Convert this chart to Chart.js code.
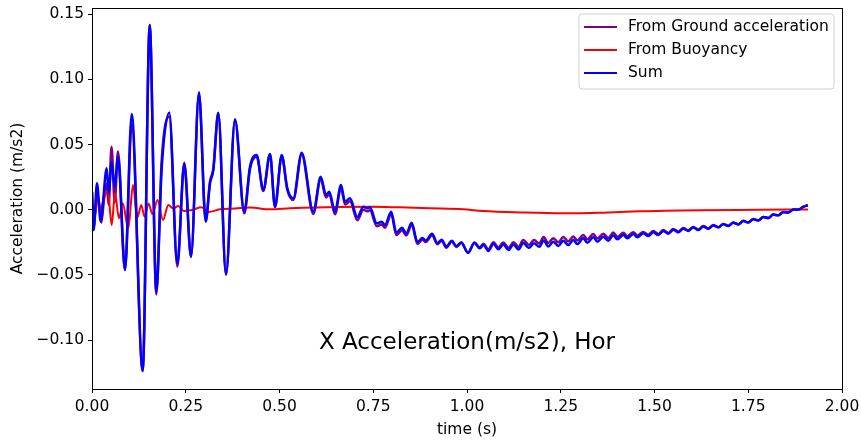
<!DOCTYPE html>
<html>
<head>
<meta charset="utf-8">
<script src="https://cdn.jsdelivr.net/npm/chart.js@4.4.1/dist/chart.umd.min.js"></script>
<style>
  html, body { margin: 0; padding: 0; background: #fff; }
  #wrap { width: 861px; height: 440px; }
</style>
</head>
<body>
<div id="wrap"><canvas id="accelChart" width="861" height="440"></canvas></div>
<script>
// time samples for the ground / sum traces (s)
const sumTime = [
    0.000, 0.0045, 0.0133, 0.0232, 0.0392, 0.0445, 0.052, 0.0605, 0.0693, 0.088,
    0.1059, 0.1352, 0.1539, 0.1715, 0.1859, 0.2061, 0.2275, 0.2461, 0.264, 0.2853,
    0.3032, 0.3147, 0.3235, 0.3368, 0.3573, 0.3813, 0.4061, 0.4213, 0.4392, 0.4568,
    0.4747, 0.488, 0.5059, 0.5208, 0.5368, 0.5592, 0.5901, 0.6099, 0.624, 0.6328,
    0.648, 0.664, 0.6747, 0.688, 0.7075, 0.7235, 0.7341, 0.7413, 0.7592, 0.7725,
    0.7813, 0.7979, 0.8115, 0.8267, 0.8381, 0.8525, 0.868, 0.8813, 0.8901, 0.9067,
    0.9213, 0.9325, 0.9448, 0.9595, 0.9715, 0.9848, 1.0027, 1.02, 1.0336, 1.0443,
    1.0568, 1.0707, 1.0835, 1.0968, 1.1107, 1.124, 1.1373, 1.1501, 1.1653, 1.1787,
    1.1928, 1.2043, 1.2168, 1.2301, 1.2435, 1.2568, 1.2701, 1.2835, 1.2941, 1.3101,
    1.3208, 1.3368, 1.3475, 1.3635, 1.3768, 1.3901, 1.4008, 1.4168, 1.4275, 1.4435,
    1.4541, 1.4701, 1.4835, 1.4968, 1.5101, 1.5235, 1.5368, 1.5501, 1.5635, 1.5768,
    1.5901, 1.6035, 1.6168, 1.6301, 1.6435, 1.6568, 1.6701, 1.6835, 1.6968, 1.7101,
    1.7235, 1.7368, 1.7501, 1.7635, 1.7768, 1.7901, 1.8035, 1.8168, 1.8301, 1.8435,
    1.8568, 1.8701, 1.8835, 1.8968, 1.9088
];

// Sum (m/s2)
const sumAccel = [
    0.0138, -0.0156, 0.0202, -0.0092, 0.0317, 0.0126, 0.0368, 0.0176, 0.0406, -0.0462,
    0.0733, -0.1236, 0.1415, -0.0628, 0.032, 0.0745, -0.0411, 0.035, -0.036, 0.090,
    -0.0092, 0.0202, 0.0304, 0.0743, -0.0493, 0.0693, -0.0015, 0.033, 0.0419, 0.0151,
    0.0427, 0.0023, 0.0419, 0.0164, 0.0087, 0.0437, -0.0015, 0.0253, 0.0113, 0.0138,
    -0.0015, 0.0189, 0.0061, 0.0087, -0.0058, 0.0023, 0.0011, 0.0018, -0.0104, -0.0092,
    -0.0117, -0.0015, -0.0176, -0.0139, -0.0181, -0.010, -0.0248, -0.0217, -0.0236, -0.0184,
    -0.0255, -0.023, -0.0284, -0.0238, -0.028, -0.0251, -0.033, -0.0255, -0.0296, -0.027,
    -0.0316, -0.0263, -0.0303, -0.0267, -0.0309, -0.0267, -0.0305, -0.0255, -0.0293, -0.0257,
    -0.0284, -0.0236, -0.0282, -0.0245, -0.0278, -0.0238, -0.027, -0.0232, -0.0263, -0.0219,
    -0.0253, -0.0211, -0.0245, -0.0207, -0.0238, -0.0195, -0.0227, -0.0194, -0.0219, -0.0186,
    -0.0211, -0.0181, -0.0202, -0.0173, -0.0194, -0.0163, -0.0184, -0.0153, -0.0173, -0.0145,
    -0.0163, -0.0136, -0.0156, -0.0129, -0.0146, -0.0121, -0.0136, -0.0112, -0.0125, -0.010,
    -0.0113, -0.0087, -0.0098, -0.0073, -0.0083, -0.0056, -0.0064, -0.0037, -0.0043, -0.0018,
    -0.0021, 0.0002, 0.0002, 0.0023, 0.0036
];

// From Ground acceleration (m/s2)
const groundAccel = [
    0.0138, -0.0126, 0.0122, -0.001, 0.0197, 0.0036, 0.0483, 0.0056, 0.0446, -0.046,
    0.066, -0.1236, 0.1415, -0.065, 0.038, 0.0715, -0.0436, 0.036, -0.036, 0.0887,
    -0.0082, 0.0217, 0.0314, 0.0741, -0.0499, 0.0684, -0.0028, 0.0313, 0.0407, 0.0143,
    0.0424, 0.0018, 0.0411, 0.0154, 0.0075, 0.0422, -0.0032, 0.0235, 0.0094, 0.0119,
    -0.0035, 0.0168, 0.004, 0.0065, -0.008, 0.0, -0.0012, -0.0005, -0.0126, -0.0113,
    -0.0138, -0.0034, -0.0194, -0.0157, -0.0198, -0.0116, -0.0262, -0.0229, -0.0248, -0.0195,
    -0.0264, -0.0238, -0.0291, -0.0244, -0.0285, -0.0254, -0.033, -0.0251, -0.0288, -0.026,
    -0.0304, -0.025, -0.0288, -0.0251, -0.0292, -0.0249, -0.0285, -0.0233, -0.027, -0.0233,
    -0.0259, -0.021, -0.0255, -0.0218, -0.025, -0.021, -0.0242, -0.0205, -0.0236, -0.0193,
    -0.0227, -0.0186, -0.0221, -0.0184, -0.0217, -0.0175, -0.0208, -0.0177, -0.0203, -0.0172,
    -0.0198, -0.017, -0.0192, -0.0164, -0.0186, -0.0156, -0.0178, -0.0147, -0.0168, -0.014,
    -0.0158, -0.0132, -0.0152, -0.0125, -0.0143, -0.0118, -0.0133, -0.011, -0.0123, -0.0098,
    -0.0111, -0.0085, -0.0097, -0.0072, -0.0082, -0.0056, -0.0064, -0.0037, -0.0043, -0.0019,
    -0.0022, 0.0001, 0.0, 0.0021, 0.0034
];

// From Buoyancy, own time samples
const buoyTime = [
    0.000, 0.0072, 0.016, 0.0253, 0.0339, 0.0427, 0.0525, 0.0613, 0.072, 0.0819,
    0.0968, 0.1093, 0.1208, 0.1315, 0.140, 0.1507, 0.1613, 0.1747, 0.1893, 0.2035,
    0.2168, 0.2301, 0.2453, 0.2667, 0.2925, 0.3101, 0.3413, 0.3813, 0.4213, 0.4747,
    0.528, 0.5635, 0.6613, 0.7413, 0.8213, 0.9013, 0.9893, 1.0427, 1.1413, 1.256,
    1.3547, 1.4613, 1.6213, 1.7813, 1.9093
];
const buoyAccel = [
    0.0, -0.0054, 0.0113, -0.0102, 0.010, 0.0138, -0.0117, 0.0126, -0.0066, 0.0049,
    -0.0144, 0.0189, -0.006, 0.0036, -0.0054, 0.0048, -0.0033, 0.0074, -0.0079, 0.0036,
    0.0009, 0.0028, -0.001, -0.0002, 0.0018, -0.0018, 0.0003, 0.0009, 0.0017, 0.0003,
    0.0011, 0.0015, 0.0021, 0.0023, 0.0018, 0.0011, 0.0003, -0.001, -0.0021, -0.0028,
    -0.0024, -0.0012, -0.0004, -0.0001, 0.0002
];

const xTicks = [0, 0.25, 0.5, 0.75, 1.0, 1.25, 1.5, 1.75, 2.0];
const yTicks = [-0.10, -0.05, 0.00, 0.05, 0.10, 0.15];

const seriesNames = ["From Ground acceleration", "From Buoyancy", "Sum"];
const seriesColors = ["#800080", "#ff0000", "#0000ff"];
const plotTitle = "X Acceleration(m/s2), Hor";

const FONT = "'DejaVu Sans', sans-serif";

function toPoints(ts, vs) {
    return ts.map((t, i) => ({ x: t, y: vs[i] }));
}

function fmt(v) {
    const s = Math.abs(v).toFixed(2);
    return v < -1e-9 ? "\u2212" + s : s;
}

// frame, in-plot title and matplotlib-style legend
const extrasPlugin = {
    id: "extras",
    afterDatasetsDraw(chart) {
        const ctx = chart.ctx;
        const a = chart.chartArea;
        const xs = chart.scales.x;
        const ys = chart.scales.y;

        ctx.save();
        ctx.strokeStyle = "#000";
        ctx.lineWidth = 1;
        ctx.strokeRect(Math.round(a.left) + 0.5, Math.round(a.top) + 0.5,
            Math.round(a.right - a.left), Math.round(a.bottom - a.top));

        ctx.fillStyle = "#000";
        ctx.font = "23px " + FONT;
        ctx.textAlign = "center";
        ctx.textBaseline = "middle";
        ctx.fillText(plotTitle, xs.getPixelForValue(1.0), ys.getPixelForValue(-0.1025));

        // legend box
        const bx = 579, by = 14, bw = 255, bh = 75, r = 3;
        ctx.beginPath();
        ctx.moveTo(bx + r, by);
        ctx.arcTo(bx + bw, by, bx + bw, by + bh, r);
        ctx.arcTo(bx + bw, by + bh, bx, by + bh, r);
        ctx.arcTo(bx, by + bh, bx, by, r);
        ctx.arcTo(bx, by, bx + bw, by, r);
        ctx.closePath();
        ctx.fillStyle = "rgba(255,255,255,0.8)";
        ctx.fill();
        ctx.strokeStyle = "#d0d0d0";
        ctx.stroke();

        ctx.font = "15.5px " + FONT;
        ctx.textAlign = "left";
        seriesNames.forEach((name, i) => {
            const yy = 27 + i * 23;
            ctx.strokeStyle = seriesColors[i];
            ctx.lineWidth = 2;
            ctx.beginPath();
            ctx.moveTo(584, yy);
            ctx.lineTo(617, yy);
            ctx.stroke();
            ctx.fillStyle = "#000";
            ctx.fillText(name, 628, yy);
        });
        ctx.restore();
    }
};

const ctx = document.getElementById("accelChart").getContext("2d");

new Chart(ctx, {
    type: "line",
    data: {
        datasets: [
            {
                label: seriesNames[0],
                data: toPoints(sumTime, groundAccel),
                borderColor: seriesColors[0],
                borderWidth: 2.5,
                order: 3,
            },
            {
                label: seriesNames[1],
                data: toPoints(buoyTime, buoyAccel),
                borderColor: seriesColors[1],
                borderWidth: 2,
                order: 2,
            },
            {
                label: seriesNames[2],
                data: toPoints(sumTime, sumAccel),
                borderColor: seriesColors[2],
                borderWidth: 2.5,
                order: 1,
            },
        ],
    },
    options: {
        responsive: false,
        animation: false,
        devicePixelRatio: 1,
        layout: { padding: { left: 0, right: 19, top: 8, bottom: 0 } },
        elements: {
            point: { radius: 0 },
            line: { cubicInterpolationMode: "monotone", fill: false },
        },
        plugins: {
            legend: { display: false },
            tooltip: { enabled: false },
        },
        scales: {
            x: {
                type: "linear",
                min: 0,
                max: 2,
                afterBuildTicks: (s) => { s.ticks = xTicks.map((v) => ({ value: v })); },
                afterFit: (s) => {
                    s.height = 51;
                    s.paddingLeft = 0;
                    s.paddingRight = 0;
                },
                ticks: {
                    color: "#000",
                    font: { family: FONT, size: 15.5 },
                    padding: 5,
                    maxRotation: 0,
                    callback: (v) => v.toFixed(2),
                },
                grid: { drawOnChartArea: false, drawTicks: true, tickLength: 4, color: "#000" },
                border: { display: true, color: "#000" },
                title: {
                    display: true,
                    text: "time (s)",
                    color: "#000",
                    font: { family: FONT, size: 15.5 },
                    padding: { top: 2, bottom: 1 },
                },
            },
            y: {
                type: "linear",
                min: -0.1374,
                max: 0.1546,
                afterBuildTicks: (s) => { s.ticks = yTicks.map((v) => ({ value: v })); },
                afterFit: (s) => {
                    s.width = 92;
                    s.paddingTop = 0;
                    s.paddingBottom = 0;
                },
                ticks: {
                    color: "#000",
                    font: { family: FONT, size: 15.5 },
                    padding: 4,
                    callback: (v) => fmt(v),
                },
                grid: { drawOnChartArea: false, drawTicks: true, tickLength: 4, color: "#000" },
                border: { display: true, color: "#000" },
                title: {
                    display: true,
                    text: "Acceleration (m/s2)",
                    color: "#000",
                    font: { family: FONT, size: 15.5 },
                    padding: { top: 9, bottom: 4 },
                },
            },
        },
    },
    plugins: [extrasPlugin],
});
</script>
</body>
</html>
